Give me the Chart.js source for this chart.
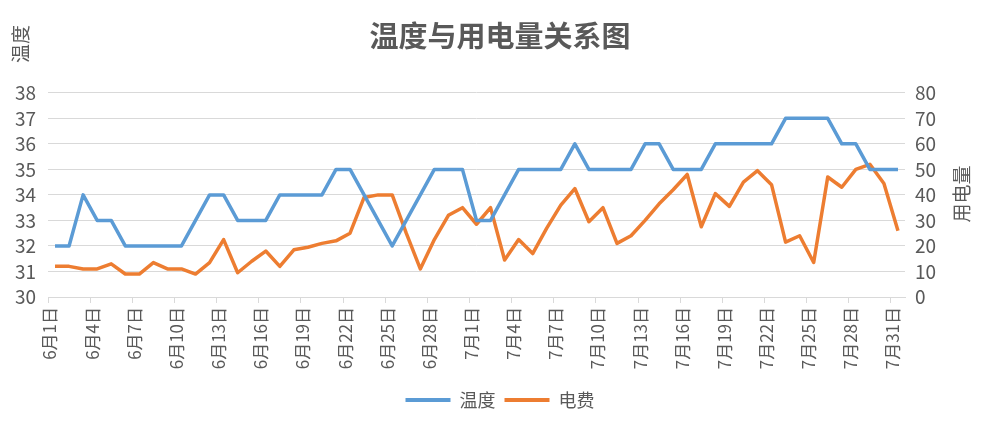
<!DOCTYPE html>
<html>
<head>
<meta charset="utf-8">
<script src="https://cdn.jsdelivr.net/npm/chart.js@4/dist/chart.umd.min.js"></script>
<style>
  html, body { margin: 0; padding: 0; background: #fff; }
  #box { width: 1000px; height: 435px; }
</style>
</head>
<body>
<div id="box"><canvas id="wenduChart"></canvas></div>
<script>
// 日期（6月1日 - 7月31日）
const days = [
  '6月1日','6月2日','6月3日','6月4日','6月5日','6月6日','6月7日','6月8日','6月9日','6月10日',
  '6月11日','6月12日','6月13日','6月14日','6月15日','6月16日','6月17日','6月18日','6月19日','6月20日',
  '6月21日','6月22日','6月23日','6月24日','6月25日','6月26日','6月27日','6月28日','6月29日','6月30日',
  '7月1日','7月2日','7月3日','7月4日','7月5日','7月6日','7月7日','7月8日','7月9日','7月10日',
  '7月11日','7月12日','7月13日','7月14日','7月15日','7月16日','7月17日','7月18日','7月19日','7月20日',
  '7月21日','7月22日','7月23日','7月24日','7月25日','7月26日','7月27日','7月28日','7月29日','7月30日',
  '7月31日'
];

// 温度
const wendu = [
  32, 32, 34, 33, 33, 32, 32, 32, 32, 32,
  33, 34, 34, 33, 33, 33, 34, 34, 34, 34,
  35, 35, 34, 33, 32, 33, 34, 35, 35, 35,
  33, 33, 34, 35, 35, 35, 35, 36, 35, 35,
  35, 35, 36, 36, 35, 35, 35, 36, 36, 36,
  36, 36, 37, 37, 37, 37, 36, 36, 35, 35,
  35
];

// 电费（用电量）
const dianfei = [
  12, 12, 11, 11, 13, 9, 9, 13.5, 11, 11,
  9, 13.5, 22.5, 9.5, 14, 18, 12, 18.5, 19.5, 21,
  22, 25, 39, 40, 40, 25, 11, 22.5, 32, 35,
  28.5, 35, 14.5, 22.5, 17, 27, 36, 42.5, 29.5, 35,
  21, 24, 30, 36.5, 42, 48, 27.5, 40.5, 35.5, 45,
  49.5, 44, 21.5, 24, 13.5, 47, 43, 50, 52, 44.5,
  26
];

const font = '"Noto Sans CJK SC", "Noto Sans", sans-serif';
const textColor = '#595959';
const gridColor = '#d9d9d9';

// 坐标轴标题（竖排，自下而上）
const axisTitles = {
  id: 'axisTitles',
  afterDraw(chart) {
    const ctx = chart.ctx;
    ctx.save();
    ctx.fillStyle = textColor;
    ctx.font = '19px ' + font;
    ctx.textAlign = 'center';
    ctx.textBaseline = 'middle';
    ctx.translate(21, 44);
    ctx.rotate(-Math.PI / 2);
    ctx.fillText('温度', 0, 0);
    ctx.restore();

    ctx.save();
    ctx.fillStyle = textColor;
    ctx.font = '19px ' + font;
    ctx.textAlign = 'center';
    ctx.textBaseline = 'middle';
    ctx.translate(962, 194);
    ctx.rotate(-Math.PI / 2);
    ctx.fillText('用电量', 0, 0);
    ctx.restore();
  }
};

const ctx = document.getElementById('wenduChart').getContext('2d');
new Chart(ctx, {
  type: 'line',
  data: {
    labels: days,
    datasets: [
      {
        label: '温度',
        data: wendu,
        yAxisID: 'y',
        borderColor: '#5b9bd5',
        backgroundColor: '#5b9bd5',
        borderWidth: 3.5,
        borderJoinStyle: 'round',
        pointRadius: 0,
        tension: 0
      },
      {
        label: '电费',
        data: dianfei,
        yAxisID: 'y1',
        borderColor: '#ed7d31',
        backgroundColor: '#ed7d31',
        borderWidth: 3.5,
        borderJoinStyle: 'round',
        pointRadius: 0,
        tension: 0
      }
    ]
  },
  options: {
    responsive: true,
    maintainAspectRatio: false,
    animation: false,
    layout: { padding: { top: 0, bottom: 16, left: 0, right: 0 } },
    plugins: {
      title: {
        display: true,
        text: '温度与用电量关系图',
        color: textColor,
        font: { family: font, size: 29, weight: 'bold' },
        padding: { top: 19, bottom: 39 }
      },
      legend: {
        position: 'bottom',
        labels: {
          color: textColor,
          font: { family: font, size: 18 },
          boxWidth: 45,
          boxHeight: 4,
          padding: 9,
          generateLabels(chart) {
            const items = Chart.defaults.plugins.legend.labels.generateLabels(chart);
            items.forEach(it => { it.lineWidth = 0; });
            return items;
          }
        }
      },
      tooltip: { enabled: false }
    },
    scales: {
      x: {
        offset: true,
        grid: {
          offset: true,
          drawOnChartArea: false,
          drawTicks: true,
          tickLength: 6,
          color: c => (c.index % 3 === 0 ? gridColor : 'rgba(0,0,0,0)')
        },
        border: { color: gridColor },
        ticks: {
          autoSkip: false,
          minRotation: 90,
          maxRotation: 90,
          padding: 4,
          labelOffset: -5,
          color: textColor,
          font: { family: font, size: 17 },
          callback: (v, i) => (i % 3 === 0 ? days[i] : '')
        },
        afterFit: s => { s.height = 85; }
      },
      y: {
        position: 'left',
        min: 30,
        max: 38,
        ticks: {
          stepSize: 1,
          autoSkip: false,
          padding: 12,
          color: textColor,
          font: { family: font, size: 19 }
        },
        grid: { color: gridColor, drawTicks: false },
        border: { display: false },
        afterFit: s => { s.width = 48; }
      },
      y1: {
        position: 'right',
        min: 0,
        max: 80,
        ticks: {
          stepSize: 10,
          autoSkip: false,
          padding: 10,
          color: textColor,
          font: { family: font, size: 19 }
        },
        grid: { drawOnChartArea: false, drawTicks: false },
        border: { display: false },
        afterFit: s => { s.width = 95; }
      }
    }
  },
  plugins: [axisTitles]
});
</script>
</body>
</html>
